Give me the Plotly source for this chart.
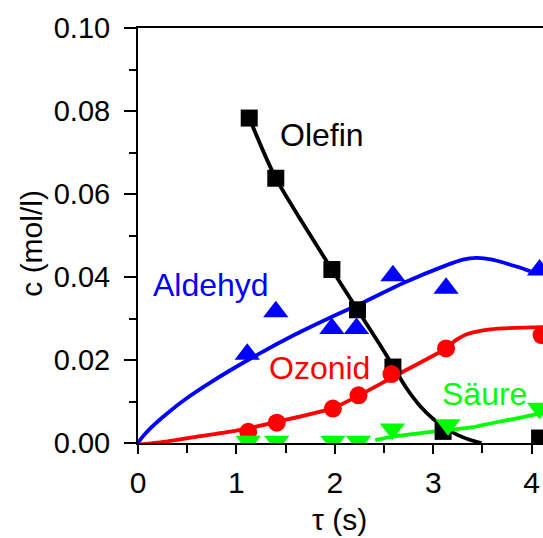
import plotly.graph_objects as go

# ---- data ----
olefin_x = [1.13, 1.40, 1.97, 2.23, 2.59, 3.10, 4.08]
olefin_y = [0.0783, 0.0638, 0.0418, 0.0321, 0.0183, 0.0028, 0.0012]
aldehyd_x = [1.11, 1.40, 1.97, 2.22, 2.59, 3.13, 4.08]
aldehyd_y = [0.0214, 0.0316, 0.0276, 0.0276, 0.0403, 0.0373, 0.0417]
ozonid_x = [1.12, 1.41, 1.98, 2.24, 2.575, 3.13, 4.10]
ozonid_y = [0.0027, 0.0049, 0.0083, 0.0115, 0.0166, 0.0228, 0.0260]
saeure_x = [1.12, 1.41, 1.98, 2.24, 2.585, 3.15, 4.08]
saeure_y = [0.0004, 0.0004, 0.0004, 0.0004, 0.0034, 0.0044, 0.0084]

# fitted model curves
olefin_fit_x = [1.13, 1.40, 1.97, 2.23, 2.46, 2.59, 2.72, 2.87, 3.0, 3.135, 3.25, 3.37, 3.49]
olefin_fit_y = [0.0783, 0.0638, 0.0418, 0.0321, 0.0236, 0.0186, 0.0135, 0.0088, 0.0058, 0.0035, 0.0019, 0.0008, 0.0]
aldehyd_fit_x = [0, 0.05, 0.12, 0.25, 0.46, 0.75, 1.14, 1.6, 1.95, 2.3, 2.69, 3.13, 3.3, 3.44, 3.6, 3.74, 3.9, 4.05, 4.12]
aldehyd_fit_y = [0, 0.0016, 0.0034, 0.0062, 0.0102, 0.0148, 0.0203, 0.0262, 0.0302, 0.0340, 0.0385, 0.0428, 0.0442, 0.0446, 0.0442, 0.0433, 0.0421, 0.0410, 0.0413]
ozonid_fit_x = [0, 0.3, 0.59, 1.03, 1.41, 1.98, 2.24, 2.59, 3.13, 3.22, 3.34, 3.58, 4.12]
ozonid_fit_y = [-0.0004, 0.0004, 0.0015, 0.0031, 0.0051, 0.0084, 0.0114, 0.0159, 0.0228, 0.0246, 0.0262, 0.0274, 0.0279]
saeure_fit_x = [2.41, 2.6, 3.13, 3.37, 3.64, 3.9, 4.12]
saeure_fit_y = [0.0007, 0.0016, 0.0031, 0.0037, 0.0050, 0.0062, 0.0073]

x_ticks = [0, 1, 2, 3, 4]
y_ticks = [0.00, 0.02, 0.04, 0.06, 0.08, 0.10]
y_tick_labels = ["0.00", "0.02", "0.04", "0.06", "0.08", "0.10"]

labels = ["Olefin", "Aldehyd", "Ozonid", "Säure"]
label_x = [1.868, 0.739, 1.849, 3.525]
label_y = [0.0741, 0.0381, 0.0181, 0.0119]

BLACK, BLUE, RED, GREEN = "#000000", "#0000ff", "#ff0000", "#00ff00"
colors = [BLACK, BLUE, RED, GREEN]
FONT = "Liberation Sans, Arial, sans-serif"
FS = 32
TFS = 29

fig = go.Figure()
for fx, fy, c in [(olefin_fit_x, olefin_fit_y, BLACK), (aldehyd_fit_x, aldehyd_fit_y, BLUE),
                  (ozonid_fit_x, ozonid_fit_y, RED), (saeure_fit_x, saeure_fit_y, GREEN)]:
    fig.add_trace(go.Scatter(x=fx, y=fy, mode="lines", line=dict(color=c, width=3.8, shape="spline", smoothing=0.7),
                             showlegend=False, hoverinfo="skip"))

for mx, my, c, sym, sz in [(olefin_x, olefin_y, BLACK, "square", 17),
                           (aldehyd_x, aldehyd_y, BLUE, "triangle-up", 22),
                           (ozonid_x, ozonid_y, RED, "circle", 18),
                           (saeure_x, saeure_y, GREEN, "triangle-down", 22)]:
    fig.add_trace(go.Scatter(x=mx, y=my, mode="markers",
                             marker=dict(color=c, symbol=sym, size=sz, line=dict(width=0)),
                             showlegend=False))

for t, lx, ly, c in zip(labels, label_x, label_y, colors):
    fig.add_annotation(x=lx, y=ly, text=t, showarrow=False, font=dict(family=FONT, size=FS, color=c),
                       xanchor="center", yanchor="middle")

W, H = 543, 538
L, T, B = 138.3, 27.5, 538 - 443.3
pw = W - L
ph = H - T - B
# axis titles
fig.add_annotation(xref="paper", yref="paper", x=(31 - L) / pw, y=(443.3 - 243) / ph, text="c (mol/l)",
                   textangle=-90, showarrow=False, font=dict(family=FONT, size=30, color="black"),
                   xanchor="center", yanchor="middle")
fig.add_annotation(xref="paper", yref="paper", x=(340 - L) / pw, y=(443.3 - 520) / ph, text="τ (s)",
                   showarrow=False, font=dict(family=FONT, size=30, color="black"),
                   xanchor="center", yanchor="middle")

fig.update_layout(
    width=W, height=H,
    margin=dict(l=L, r=0, t=T, b=B, pad=0),
    plot_bgcolor="white", paper_bgcolor="white",
    font=dict(family=FONT, size=TFS, color="black"),
    xaxis=dict(range=[0, pw / 98.35], tickvals=x_ticks, ticks="outside", ticklen=9, tickwidth=2,
               tickcolor="black", showline=True, linewidth=2, linecolor="black", mirror=True,
               showgrid=False, zeroline=False, tickfont=dict(size=30), ticklabelstandoff=3,
               minor=dict(dtick=0.5, ticks="outside", ticklen=8, tickwidth=2, tickcolor="black")),
    yaxis=dict(range=[0, 0.10], tickvals=y_ticks, ticktext=y_tick_labels, ticks="outside", ticklen=12,
               tickwidth=2, tickcolor="black", showline=True, linewidth=2, linecolor="black", mirror=False,
               showgrid=False, zeroline=False, tickfont=dict(size=TFS), ticklabelstandoff=8,
               minor=dict(dtick=0.01, ticks="outside", ticklen=7, tickwidth=2, tickcolor="black")),
)
fig.write_html("out.html")
